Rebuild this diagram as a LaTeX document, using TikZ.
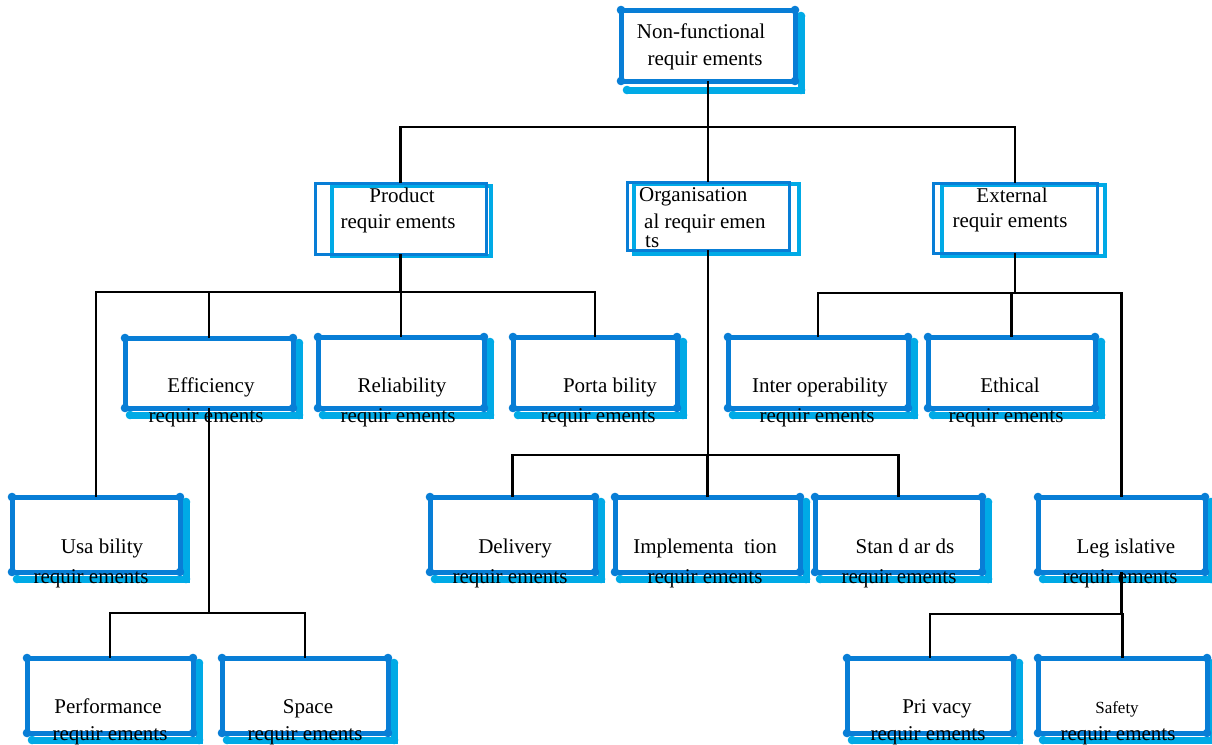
\documentclass[tikz,border=0pt]{standalone}
\usepackage{fontspec}
\setmainfont{Liberation Serif}
\definecolor{nfdark}{RGB}{8,126,214}
\definecolor{nflight}{RGB}{0,170,230}
\tikzset{
  frame/.style={rectangle, inner sep=0pt, outer sep=0pt},
  darkframe/.style={frame, draw=nfdark, line width=5pt},
  shadowline/.style={draw=nflight, line width=7pt},
  thinframe/.style={frame, draw=nfdark, line width=3pt},
  thinshadow/.style={frame, draw=nflight, line width=4pt},
  conn/.style={draw=black, line width=2.8pt},
  lbl/.style={font=\fontsize{21}{25}\selectfont, anchor=base, inner sep=0pt},
  lblw/.style={lbl, anchor=base west},
}
% round blobs on the four corners of a frame
\newcommand\cornerdots[2]{%
  \foreach \c in {north west,north east,south west,south east}
    \fill[#1] (#2.\c) circle (4.3pt);}
% thick frame with a light drop shadow on its lower and right sides:
% name, x1,y1,x2,y2, shadow left, shadow top, shadow right, shadow bottom
\newcommand\framedboxat[9]{%
  \draw[shadowline] (#6,#9) coordinate (#1-sa) -- (#8,#9) coordinate (#1-sb)
    -- (#8,#7) coordinate (#1-sc);
  \foreach \c in {sa,sb,sc} \fill[nflight] (#1-\c) circle (4.3pt);
  \node[darkframe, minimum width={(#4-#2)*1pt}, minimum height={(#5-#3)*1pt}]
    (#1) at ({(#2+#4)/2},{(#3+#5)/2}) {};
  \cornerdots{nfdark}{#1}}
% thick frame with the usual shadow offset
\newcommand\framedbox[5]{\framedboxat{#1}{#2}{#3}{#4}{#5}{{#2+5}}{{#3+5}}{{#4+6}}{{#5+7}}}
% thin frame with an offset light outline
\newcommand\plainbox[9]{%
  \node[thinshadow, minimum width={(#8-#6)*1pt}, minimum height={(#9-#7)*1pt}]
    (#1-s) at ({(#6+#8)/2},{(#7+#9)/2}) {};
  \node[thinframe, minimum width={(#4-#2)*1pt}, minimum height={(#5-#3)*1pt}]
    (#1) at ({(#2+#4)/2},{(#3+#5)/2}) {};}
\begin{document}
\begin{tikzpicture}[x=1pt, y=-1pt]
\useasboundingbox (0,0) rectangle (1212,744);

% boxes
\framedboxat{nfr}{621}{10}{795}{81}{627}{16}{801}{90}
\plainbox{prod}{315}{183}{486}{254}{332}{186}{491}{256}
\plainbox{org}{627}{182}{789}{250}{634}{184}{799}{254}
\plainbox{ext}{933}{183}{1097}{253}{942}{185}{1105}{256}

\framedbox{eff}{125}{338}{293}{408}
\framedbox{rel}{318}{337}{484}{408}
\framedbox{port}{513}{337}{677}{408}
\framedbox{inter}{728}{337}{908}{408}
\framedbox{eth}{928}{337}{1095}{408}

\framedbox{usab}{12}{497}{180}{572}
\framedbox{deliv}{430}{497}{595}{572}
\framedbox{impl}{615}{497}{800}{572}
\framedbox{stand}{815}{497}{982}{572}
\framedbox{legis}{1038}{497}{1205}{572}

\framedbox{perf}{27}{658}{193}{733}
\framedbox{space}{222}{658}{388}{733}
\framedbox{priv}{847}{658}{1013}{733}
\framedbox{safe}{1038}{658}{1207}{733}

% labels
\node[lbl] (nfr-a) at (701,38) {Non-functional};
\node[lbl] (nfr-b) at (705,65) {requir ements};
\node[lbl] (prod-a) at (402,202) {Product};
\node[lbl] (prod-b) at (398,228) {requir ements};
\node[lblw] (org-a) at (639,201) {Organisation};
\node[lblw] (org-b) at (644,228) {al requir emen};
\node[lblw] (org-c) at (645,247) {ts};
\node[lbl] (ext-a) at (1012,202) {External};
\node[lbl] (ext-b) at (1010,227) {requir ements};

\node[lbl] (eff-a) at (211,392) {Efficiency};
\node[lbl] (eff-b) at (206,422) {requir ements};
\node[lbl] (rel-a) at (402,392) {Reliability};
\node[lbl] (rel-b) at (398,422) {requir ements};
\node[lbl] (port-a) at (610,392) {Porta bility};
\node[lbl] (port-b) at (598,422) {requir ements};
\node[lbl] (inter-a) at (820,392) {Inter operability};
\node[lbl] (inter-b) at (817,422) {requir ements};
\node[lbl] (eth-a) at (1010,392) {Ethical};
\node[lbl] (eth-b) at (1006,422) {requir ements};

\node[lbl] (usab-a) at (102,553) {Usa bility};
\node[lbl] (usab-b) at (91,583) {requir ements};
\node[lbl] (deliv-a) at (515,553) {Delivery};
\node[lbl] (deliv-b) at (510,583) {requir ements};
\node[lbl] (impl-a) at (705,553) {Implementa\ \ tion};
\node[lbl] (impl-b) at (705,583) {requir ements};
\node[lbl] (stand-a) at (905,553) {Stan d ar ds};
\node[lbl] (stand-b) at (899,583) {requir ements};
\node[lbl] (legis-a) at (1126,553) {Leg islative};
\node[lbl] (legis-b) at (1120,583) {requir ements};

\node[lbl] (perf-a) at (108,713) {Performance};
\node[lbl] (perf-b) at (110,740) {requir ements};
\node[lbl] (space-a) at (308,713) {Space};
\node[lbl] (space-b) at (305,740) {requir ements};
\node[lbl] (priv-a) at (937,713) {Pri vacy};
\node[lbl] (priv-b) at (928,740) {requir ements};
\node[lbl, font=\fontsize{17}{20}\selectfont] (safe-a) at (1117,713) {Safety};
\node[lbl] (safe-b) at (1118,740) {requir ements};

% connectors
\draw[conn] (nfr.south) -- ++(0,46) coordinate (j0);
\draw[conn] (j0) -| (prod.north);
\draw[conn] (j0) -| (org.north);
\draw[conn] (j0) -| (ext.north);

\draw[conn] (prod.south) -- ++(0,38) coordinate (j1);
\draw[conn] (j1) -| (usab.north);
\draw[conn] (j1) -| (eff.north);
\draw[conn] (j1) -| (rel.north);
\draw[conn] (j1) -| (port.north);

\draw[conn] (eff.south) -- ++(0,205) coordinate (j2);
\draw[conn] (j2) -| (perf.north);
\draw[conn] (j2) -| (space.north);

\draw[conn] (org.south) -- ++(0,205) coordinate (j3);
\draw[conn] (j3) -| (deliv.north);
\draw[conn] (j3) -| (impl.north);
\draw[conn] (j3) -| (stand.north);

\draw[conn] (ext.south) -- ++(0,40) coordinate (j4);
\draw[conn] (j4) -| (inter.north);
\draw[conn] (j4) -| (eth.north);
\draw[conn] (j4) -| (legis.north);

\draw[conn] (legis.south) -- ++(0,42) coordinate (j5);
\draw[conn] (j5) -| (priv.north);
\draw[conn] (j5) -| (safe.north);
\end{tikzpicture}
\end{document}
